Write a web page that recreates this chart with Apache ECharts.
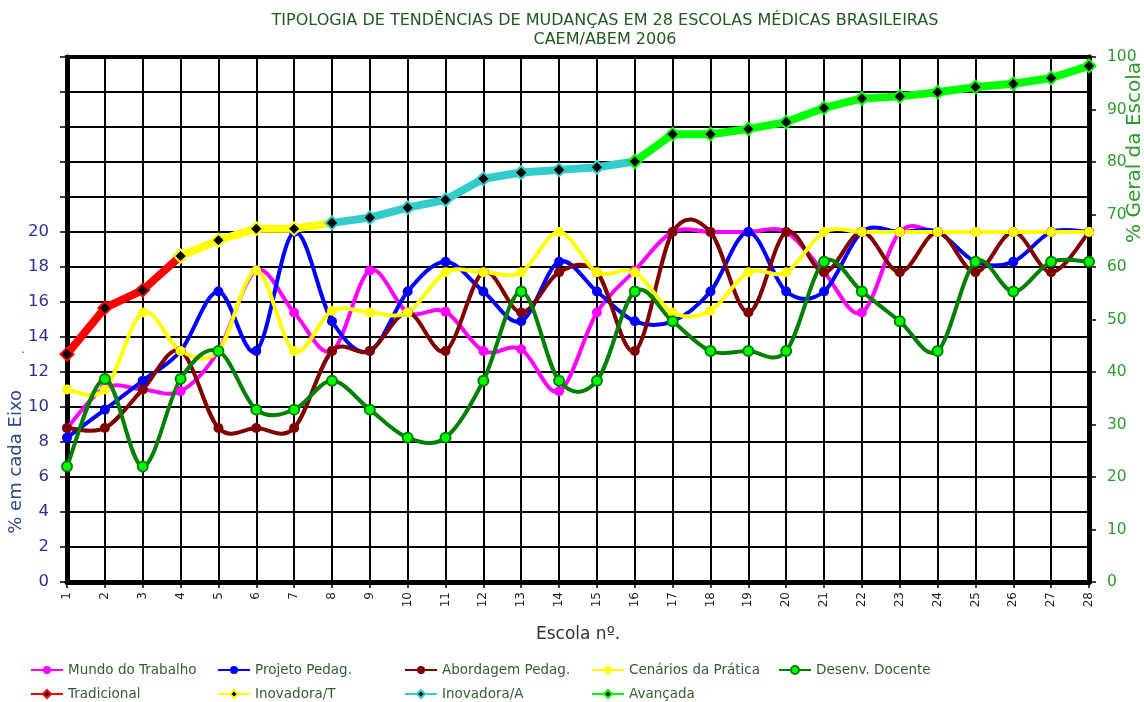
<!DOCTYPE html>
<html>
<head>
<meta charset="utf-8">
<script src="https://cdn.jsdelivr.net/npm/echarts@6/dist/echarts.min.js"></script>
<style>html,body{margin:0;padding:0;background:#fff}#c{width:1144px;height:702px}</style>
</head>
<body>
<div id="c"></div>
<script>
const categories = ['1','2','3','4','5','6','7','8','9','10','11','12','13','14','15','16','17','18','19','20','21','22','23','24','25','26','27','28'];
const leftTicks = [0,2,4,6,8,10,12,14,16,18,20];
// % em cada Eixo
const mundoTrabalho   = [8.8,11.1,11.0,10.9,13.2,17.8,15.4,13.2,17.8,15.4,15.45,13.2,13.3,10.9,15.4,17.8,20,20,20,20,17.7,15.4,20,20,20,20,20,20];
const projetoPedag    = [8.25,9.85,11.5,13.2,16.6,13.2,20,14.9,13.2,16.6,18.3,16.6,14.9,18.3,16.6,14.9,14.9,16.6,20,16.6,16.6,20,20,20,18.3,18.3,20,20];
const abordagemPedag  = [8.8,8.8,11.0,13.2,8.8,8.8,8.8,13.2,13.2,15.4,13.2,17.7,15.4,17.7,17.7,13.2,20,20,15.4,20,17.7,20,17.7,20,17.7,20,17.7,20];
const cenariosPratica = [11.0,11.0,15.4,13.2,13.2,17.8,13.2,15.5,15.4,15.4,17.7,17.7,17.7,20,17.7,17.7,15.4,15.5,17.7,17.7,20,20,20,20,20,20,20,20];
const desenvDocente   = [6.6,11.6,6.6,11.6,13.2,9.85,9.85,11.5,9.85,8.25,8.25,11.5,16.6,11.5,11.5,16.6,14.9,13.2,13.2,13.2,18.3,16.6,14.9,13.2,18.3,16.6,18.3,18.3];
// % Geral da Escola
const tradicional = [43.4,52.2,55.6,62.1,null,null,null,null,null,null,null,null,null,null,null,null,null,null,null,null,null,null,null,null,null,null,null,null];
const inovadoraT  = [null,null,null,62.1,65.1,67.3,67.3,68.4,null,null,null,null,null,null,null,null,null,null,null,null,null,null,null,null,null,null,null,null];
const inovadoraA  = [null,null,null,null,null,null,null,68.4,69.4,71.3,72.8,76.8,78.0,78.5,79.0,80.1,null,null,null,null,null,null,null,null,null,null,null,null];
const avancada    = [null,null,null,null,null,null,null,null,null,null,null,null,null,null,null,80.1,85.3,85.3,86.3,87.6,90.3,92.1,92.5,93.3,94.3,94.9,96.0,98.3];

const FONT = 'DejaVu Sans';
const chart = echarts.init(document.getElementById('c'), null, {renderer:'canvas'});

// Excel-like smoothed curve (Catmull-Rom bezier) drawn through the axes' own coordinate system
function curveSeries(name, data, color, z) {
  return {
    type:'custom', name: name + ' (curva)', yAxisIndex:0, z:z, silent:true,
    data: data.slice(0, data.length - 1).map((v, i) => [i, v]),
    encode:{x:0, y:1},
    renderItem:(params, api) => {
      const i = params.dataIndex;
      const P = k => { const kk = Math.max(0, Math.min(data.length - 1, k)); return api.coord([kk, data[kk]]); };
      const p0 = P(i - 1), p1 = P(i), p2 = P(i + 1), p3 = P(i + 2);
      const t = 1 / 6;
      return {
        type:'bezierCurve',
        shape:{
          x1:p1[0], y1:p1[1], x2:p2[0], y2:p2[1],
          cpx1:p1[0] + (p2[0] - p0[0]) * t, cpy1:p1[1] + (p2[1] - p0[1]) * t,
          cpx2:p2[0] - (p3[0] - p1[0]) * t, cpy2:p2[1] - (p3[1] - p1[1]) * t
        },
        style:{stroke:color, lineWidth:4, fill:'none', lineCap:'round'}
      };
    }
  };
}
function markerSeries(name, data, lineColor, fill, border, z) {
  return {
    name, type:'line', data, yAxisIndex:0, z:z,
    symbol:'circle', symbolSize:10,
    lineStyle:{color:lineColor, width:4, opacity:0},
    itemStyle:{color:fill, borderColor:border || fill, borderWidth: border ? 2 : 0}
  };
}
function segSeries(name, data, color, z) {
  return {
    name, type:'line', data, yAxisIndex:1, smooth:false, z:z,
    connectNulls:false,
    symbol:'diamond', symbolSize:13,
    lineStyle:{color:color, width:8},
    itemStyle:{color:'#000', borderColor:color, borderWidth:2}
  };
}
const legendPos = [
  ['Mundo do Trabalho',30,663],['Projeto Pedag.',217,663],['Abordagem Pedag.',404,663],['Cenários da Prática',591,663],['Desenv. Docente',778,663],
  ['Tradicional',30,687],['Inovadora/T',217,687],['Inovadora/A',404,687],['Avançada',591,687]
];
const option = {
  animation:false,
  backgroundColor:'#fff',
  title:{
    text:'TIPOLOGIA DE TENDÊNCIAS DE MUDANÇAS EM 28 ESCOLAS MÉDICAS BRASILEIRAS',
    subtext:'CAEM/ABEM 2006',
    left:600, top:8, textAlign:'center', itemGap:3,
    textStyle:{fontFamily:FONT, fontSize:16, fontWeight:'normal', color:'#1E5A1E'},
    subtextStyle:{fontFamily:FONT, fontSize:16, color:'#1E5A1E'}
  },
  legend: legendPos.map(p => ({
    data:[{name:p[0], lineStyle:{opacity:1}}], left:p[1], top:p[2], padding:0, itemGap:0,
    itemWidth:32, itemHeight:10,
    textStyle:{fontFamily:FONT, fontSize:13.5, color:'#2F5F2F'}
  })),
  grid:{left:67, right:55, top:57, bottom:120, show:true, borderColor:'#000', borderWidth:4, backgroundColor:'transparent'},
  xAxis:{
    type:'category', data:categories, boundaryGap:false,
    name:'Escola nº.', nameLocation:'middle', nameGap:44,
    nameTextStyle:{fontFamily:FONT, fontSize:17, color:'#333'},
    axisLine:{show:true, lineStyle:{color:'#000', width:5}},
    axisTick:{show:true, length:6, lineStyle:{color:'#000', width:1.5}},
    axisLabel:{rotate:90, fontFamily:FONT, fontSize:12, color:'#222', margin:10},
    splitLine:{show:true, lineStyle:{color:'#000', width:2}}
  },
  yAxis:[
    {
      type:'value', min:0, max:30, interval:2, position:'left',
      axisLine:{show:true, lineStyle:{color:'#000', width:5}},
      axisTick:{show:true, length:7, lineStyle:{color:'#000', width:1.5}},
      axisLabel:{fontFamily:FONT, fontSize:16.5, color:'#2E3192', margin:18,
        formatter: v => leftTicks.indexOf(v) >= 0 ? String(v) : ''},
      splitLine:{show:true, lineStyle:{color:'#000', width:2}}
    },
    {
      type:'value', min:0, max:100, interval:10, position:'right',
      axisLine:{show:true, lineStyle:{color:'#000', width:5}},
      axisTick:{show:true, length:7, lineStyle:{color:'#000', width:1.5}},
      axisLabel:{fontFamily:FONT, fontSize:15.5, color:'#2E9B2E', margin:18},
      splitLine:{show:false}
    }
  ],
  graphic:[
    {type:'text', left:7, top:390, rotation:Math.PI/2, style:{text:'% em cada Eixo', font:'18px "DejaVu Sans"', fill:'#2E4A8A'}},
    {type:'text', left:21, top:344, style:{text:'.', font:'12px "DejaVu Sans"', fill:'#2E4A8A'}},
    {type:'text', left:1125, top:62, rotation:Math.PI/2, style:{text:'% Geral da Escola', font:'20px "DejaVu Sans"', fill:'#2E9B2E'}}
  ],
  series:[
    curveSeries('Mundo do Trabalho', mundoTrabalho, '#FF00FF', 2),
    markerSeries('Mundo do Trabalho', mundoTrabalho, '#FF00FF', '#FF00FF', null, 2),
    curveSeries('Projeto Pedag.', projetoPedag, '#0000FF', 2),
    markerSeries('Projeto Pedag.', projetoPedag, '#0000FF', '#0000FF', null, 2),
    curveSeries('Abordagem Pedag.', abordagemPedag, '#800000', 2),
    markerSeries('Abordagem Pedag.', abordagemPedag, '#800000', '#800000', null, 2),
    curveSeries('Cenários da Prática', cenariosPratica, '#FFFF00', 2),
    markerSeries('Cenários da Prática', cenariosPratica, '#FFFF00', '#FFFF00', null, 2),
    curveSeries('Desenv. Docente', desenvDocente, '#008000', 2),
    markerSeries('Desenv. Docente', desenvDocente, '#008000', '#00FF00', '#008000', 2),
    segSeries('Tradicional', tradicional, '#FF0000', 5),
    segSeries('Inovadora/T', inovadoraT, '#FFFF00', 6),
    segSeries('Inovadora/A', inovadoraA, '#33CCCC', 7),
    segSeries('Avançada', avancada, '#00FF00', 8)
  ]
};
chart.setOption(option);
</script>
</body>
</html>
